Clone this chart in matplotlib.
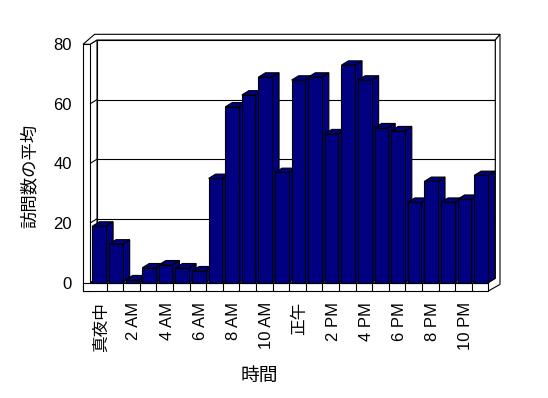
import numpy as np
import matplotlib.pyplot as plt
from matplotlib.patches import Polygon, Rectangle

# data
hours = list(range(24))
visits = [19, 13, 1, 5, 6, 5, 4, 35, 59, 63, 69, 37,
          68, 69, 50, 73, 68, 52, 51, 27, 34, 27, 28, 36]
tick_hours = hours[::2]
tick_labels = ['真夜中', '2 AM', '4 AM', '6 AM', '8 AM', '10 AM',
               '正午', '2 PM', '4 PM', '6 PM', '8 PM', '10 PM']
y_ticks = [0, 20, 40, 60, 80]

plt.rcParams['font.family'] = ['Liberation Sans', 'Noto Sans CJK JP', 'DejaVu Sans']

W, H = 548, 398
fig = plt.figure(figsize=(W / 100, H / 100), dpi=100)
# front face of the plot box, in pixels: x 90..488, y 44..283
ax = fig.add_axes([90 / W, 1 - 282.7 / H, 398.3 / W, 238.4 / H])
ax.set_xlim(-0.5, 23.5)
ax.set_ylim(0, 80)
x0, x1 = ax.get_xlim()
y0, y1 = ax.get_ylim()
ux = 398.3 / (x1 - x0)   # px per category
uy = 238.4 / (y1 - y0)   # px per visit


def pt(x, y, ox=0.0, oy=0.0):
    # data point shifted by a pixel offset (ox right, oy up)
    return (x + ox / ux, y + oy / uy)


DX, DY = 7.0, 4.3          # depth of the box / bars in pixels
dx, dy = DX / ux, DY / uy
navy = '#000080'
lw = 0.8


def poly(pts, fc='white', z=1):
    ax.add_patch(Polygon(pts, closed=True, facecolor=fc, edgecolor='black',
                         linewidth=lw, clip_on=False, zorder=z))


def line(a, b, z=1.5):
    ax.plot([a[0], b[0]], [a[1], b[1]], color='black', lw=lw,
            clip_on=False, zorder=z, solid_capstyle='butt')


# back wall with gridlines
poly([pt(x0, y0, DX, DY), pt(x1, y0, DX, DY), pt(x1, y1, DX, DY), pt(x0, y1, DX, DY)])
for v in y_ticks[1:-1]:
    line(pt(x0, v, DX, DY), pt(x1, v, DX, DY))
# left wall inner face
poly([pt(x0, y0), pt(x0, y1), pt(x0, y1, DX, DY), pt(x0, y0, DX, DY)])
for v in y_ticks[1:-1]:
    line(pt(x0, v), pt(x0, v, DX, DY))
# floor top
poly([pt(x0, y0), pt(x1, y0), pt(x1, y0, DX, DY), pt(x0, y0, DX, DY)])
# wall tops
poly([pt(x0, y1, -7), pt(x0, y1), pt(x0, y1, DX, DY), pt(x1, y1, DX, DY),
      pt(x1, y1, 11.7, 10), pt(x0, y1, 4.6, 10)])
# right edge strip of back wall and floor
poly([pt(x1, y1, DX, DY), pt(x1, y1, 11.7, 10), pt(x1, y0, 11.7, -1.7),
      pt(x1, y0, 0, -8.3), pt(x1, y0), pt(x1, y0, DX, DY)])
# left wall front face and floor front face
poly([pt(x0, y0, -7, -8.3), pt(x0, y0, 0, -8.3), pt(x0, y1), pt(x0, y1, -7)], z=1.2)
poly([pt(x0, y0, -7, -8.3), pt(x1, y0, 0, -8.3), pt(x1, y0), pt(x0, y0, -7)], z=1.2)
for h in hours[:-1]:
    line(pt(h + 0.5, y0), pt(h + 0.5, y0, 0, -8.3), z=1.3)

# bars, drawn left to right so each front covers the previous side
bw = 0.82
for h, v in zip(hours, visits):
    l = h - 0.35
    r = l + bw
    poly([(r, 0), (r, v), (r + dx, v + dy), (r + dx, dy)], fc=navy, z=3)
    poly([(l, v), (r, v), (r + dx, v + dy), (l + dx, v + dy)], fc=navy, z=3)
    ax.add_patch(Rectangle((l, 0), bw, v, facecolor=navy, edgecolor='black',
                           linewidth=lw, zorder=3, clip_on=False))

ax.set_facecolor('none')
for s in ax.spines.values():
    s.set_visible(False)
ax.set_yticks(y_ticks)
ax.set_yticklabels([str(v) for v in y_ticks], fontsize=12)
ax.set_xticks(np.array(tick_hours) + 0.15)
ax.set_xticklabels(tick_labels, rotation=90, fontsize=12)
ax.tick_params(axis='y', length=0, pad=13)
ax.tick_params(axis='x', length=0, pad=14)

fig.text(259 / W, 1 - 376 / H, '時間', fontsize=13.5, ha='center', va='center')
fig.text(29 / W, 1 - 176 / H, '訪問数の平均', fontsize=12.5, rotation=90,
         ha='center', va='center')

fig.savefig('out.png', dpi=100)
